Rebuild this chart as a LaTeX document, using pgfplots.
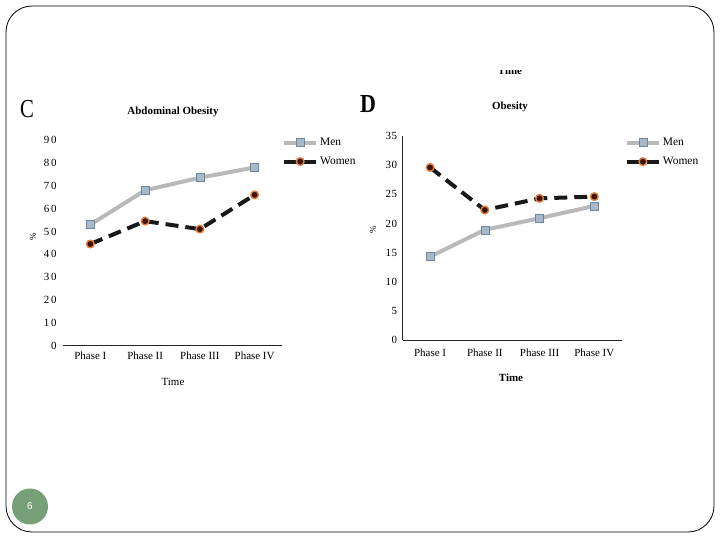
\documentclass[border=0pt]{standalone}
\usepackage{fontspec}
\setmainfont{Liberation Serif}
\setsansfont{Liberation Sans}
\newfontfamily\tickfont{Liberation Serif}[LetterSpace=14]
\newfontfamily\tickfontb{Liberation Serif}[LetterSpace=6]
\usepackage{pgfplots}
\pgfplotsset{compat=1.18}
\definecolor{menline}{RGB}{185,185,185}
\definecolor{menfill}{RGB}{168,186,202}
\definecolor{menedge}{RGB}{110,135,160}
\definecolor{womfill}{RGB}{60,20,8}
\definecolor{womedge}{RGB}{225,125,60}
\definecolor{pagegreen}{RGB}{120,160,120}
\pgfplotsset{
  common/.style={
    scale only axis, width=219bp,
    xmin=-0.5, xmax=3.5,
    xtick={0,1,2,3}, xticklabels={Phase I,Phase II,Phase III,Phase IV},
    major tick length=0pt,
    axis lines*=left,
    axis line style={line width=0.8bp, color=black!85, -},
    xticklabel style={font=\fontsize{11}{13}\selectfont},
    /pgf/number format/assume math mode=true,
    clip=false,
    legend style={draw=none, fill=none, font=\fontsize{11.5}{13}\selectfont, inner sep=0pt, row sep=6bp, anchor=north west, cells={anchor=west}},
    legend image code/.code={\draw[mark repeat=2,mark phase=2,##1] plot coordinates {(0bp,0bp) (16bp,0bp) (32bp,0bp)};},
  },
  men/.style={color=menline, line width=4bp, mark=square*, mark size=4bp, mark options={solid, fill=menfill, draw=menedge, line width=0.6bp}},
  women/.style={color=black!90, line width=4bp, dash pattern=on 13bp off 7bp, mark=*, mark size=3.8bp, mark options={solid, fill=womfill, draw=womedge, line width=1.4bp}},
}
\begin{document}
\begin{tikzpicture}[x=1bp,y=1bp]
% slide frame
\path (0,0) rectangle (720,540);
\draw[line width=0.8bp, rounded corners=26bp] (6,8) rectangle (714,534);
\fill[pagegreen] (30,33.5) circle (18bp);
\node[text=white, font=\sffamily\fontsize{10}{12}\selectfont] at (30,33.5) {6};
% clipped stray title
\begin{scope}
\clip (480,455) rectangle (540,469);
\node[font=\bfseries\fontsize{11}{13}\selectfont, anchor=base] at (510,465) {Time};
\end{scope}

% ---------- Chart C ----------
\node[font=\fontsize{26}{30}\selectfont, xscale=0.8] at (27,431) {C};
\node[font=\bfseries\fontsize{11}{13}\selectfont] at (173,428) {Abdominal Obesity};
\node[font=\fontsize{9}{11}\selectfont, rotate=90] at (33,303) {\%};
\node[font=\fontsize{11}{13}\selectfont] at (173,158) {Time};
\begin{axis}[common, at={(63bp,194.3bp)}, anchor=south west, height=205.7bp,
  ymin=0, ymax=90, ytick={0,10,...,90},
  y axis line style={draw=none},
  xticklabel style={yshift=-3bp},
  yticklabel style={xshift=-3bp, font=\tickfont\fontsize{11}{13}\selectfont},
  legend style={at={(1.0,1.02)}}]
\addplot[men] coordinates {(0,53) (1,68) (2,73.5) (3,78)};
\addlegendentry{Men}
\addplot[women] coordinates {(0,44.5) (1,54.5) (2,51) (3,66)};
\addlegendentry{Women}
\end{axis}

% ---------- Chart D ----------
\node[font=\bfseries\fontsize{26}{30}\selectfont, xscale=0.85] at (368,436) {D};
\node[font=\bfseries\fontsize{11}{13}\selectfont] at (510,433) {Obesity};
\node[font=\fontsize{9}{11}\selectfont, rotate=90] at (373,310) {\%};
\node[font=\bfseries\fontsize{11}{13}\selectfont] at (511,162) {Time};
\begin{axis}[common, at={(402.7bp,200bp)}, anchor=south west, height=204bp,
  ymin=0, ymax=35, ytick={0,5,...,35},
  xticklabel style={yshift=-5bp},
  yticklabel style={xshift=-2bp, font=\tickfontb\fontsize{11}{13}\selectfont},
  legend style={at={(1.0,1.0)}, xshift=3bp}]
\addplot[men] coordinates {(0,14.3) (1,18.9) (2,20.9) (3,23.0)};
\addlegendentry{Men}
\addplot[women] coordinates {(0,29.6) (1,22.3) (2,24.3) (3,24.6)};
\addlegendentry{Women}
\end{axis}
\end{tikzpicture}
\end{document}
